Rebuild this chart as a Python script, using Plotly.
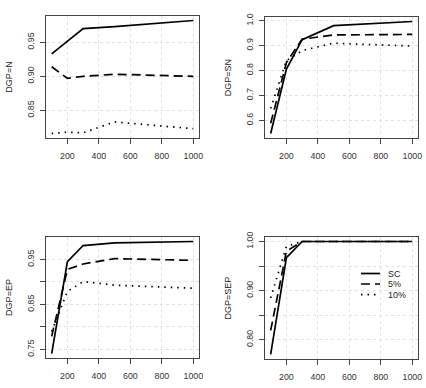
import plotly.graph_objects as go

n_vals = [100, 200, 300, 500, 1000]
series_names = ["SC", "5%", "10%"]

# DGP=N
n_sc = [0.933, 0.951, 0.970, 0.973, 0.982]
n_5 = [0.914, 0.897, 0.900, 0.903, 0.900]
n_10 = [0.816, 0.818, 0.817, 0.833, 0.823]
# DGP=SN
sn_sc = [0.547, 0.806, 0.924, 0.980, 0.997]
sn_5 = [0.588, 0.832, 0.926, 0.943, 0.945]
sn_10 = [0.648, 0.840, 0.880, 0.910, 0.898]
# DGP=EP
ep_sc = [0.741, 0.945, 0.981, 0.987, 0.990]
ep_5 = [0.779, 0.928, 0.940, 0.952, 0.948]
ep_10 = [0.790, 0.879, 0.901, 0.893, 0.886]
# DGP=SEP
sep_sc = [0.770, 0.967, 1.000, 1.000, 1.000]
sep_5 = [0.819, 0.980, 1.000, 1.000, 1.000]
sep_10 = [0.885, 0.990, 1.000, 1.000, 1.000]

panel_titles = ["DGP=N", "DGP=SN", "DGP=EP", "DGP=SEP"]
panel_data = [[n_sc, n_5, n_10], [sn_sc, sn_5, sn_10], [ep_sc, ep_5, ep_10], [sep_sc, sep_5, sep_10]]

x_ticks = [200, 400, 600, 800, 1000]
y_tickvals = [
    [0.85, 0.90, 0.95],
    [0.6, 0.7, 0.8, 0.9, 1.0],
    [0.75, 0.80, 0.85, 0.90, 0.95],
    [0.80, 0.85, 0.90, 0.95, 1.00],
]
y_ticktext = [
    ["0.85", "0.90", "0.95"],
    ["0.6", "0.7", "0.8", "0.9", "1.0"],
    ["0.75", "", "0.85", "", "0.95"],
    ["0.80", "", "0.90", "", "1.00"],
]

W, H = 426, 388
# panel boxes in pixels (left, right, top, bottom)
boxes = [(46, 199, 16, 138), (265, 418, 17, 138), (46, 199, 237, 358), (265, 418, 237, 359)]

styles = [dict(dash="solid", width=1.7), dict(dash="9px,5px", width=1.7), dict(dash="1.5px,5px", width=1.7)]

fig = go.Figure()
tfont = dict(family="Liberation Sans, Arial, sans-serif", size=8.8, color="#333")
lfont = dict(family="Liberation Sans, Arial, sans-serif", size=9, color="#222")

for i in range(4):
    ax = "" if i == 0 else str(i + 1)
    for j in range(3):
        fig.add_trace(go.Scatter(
            x=n_vals, y=panel_data[i][j], mode="lines",
            name=series_names[j],
            line=dict(color="black", **styles[j]),
            showlegend=False,
            xaxis="x" + ax, yaxis="y" + ax,
        ))
    l, r, t, b = boxes[i]
    allv = [v for s in panel_data[i] for v in s]
    lo, hi = min(allv), max(allv)
    pad = (hi - lo) * 0.04
    common = dict(showline=True, mirror=True, linecolor="#444", linewidth=1,
                  ticks="outside", ticklen=5, tickcolor="#444", tickfont=tfont,
                  showgrid=True, gridcolor="#e2e2e2", griddash="dot", gridwidth=1,
                  zeroline=False, automargin=False)
    fig.update_layout(**{
        "xaxis" + ax: dict(domain=[l / W, r / W], anchor="y" + ax, range=[64, 1036],
                           tickvals=x_ticks, ticklabelstandoff=4, **common),
        "yaxis" + ax: dict(domain=[1 - b / H, 1 - t / H], anchor="x" + ax,
                           range=[lo - pad, hi + pad], tickvals=y_tickvals[i],
                           ticktext=y_ticktext[i], tickangle=-90, ticklabelstandoff=2,
                           title=dict(text=panel_titles[i], font=lfont, standoff=12), **common),
    })

# legend keys (bottom-right panel)
leg_x0, leg_x1, leg_tx = 361 / W, 380 / W, 386 / W
leg_rows = [273.5, 284, 294.7]
shapes = []
annotations = []
for j in range(3):
    yy = 1 - leg_rows[j] / H
    shapes.append(dict(type="line", xref="paper", yref="paper", x0=leg_x0, x1=leg_x1,
                       y0=yy, y1=yy, line=dict(color="black", **styles[j])))
    annotations.append(dict(xref="paper", yref="paper", x=leg_tx, y=yy, text=series_names[j],
                            showarrow=False, xanchor="left", yanchor="middle", font=lfont))

fig.update_layout(
    width=W, height=H, margin=dict(l=0, r=0, t=0, b=0),
    plot_bgcolor="white", paper_bgcolor="white",
    shapes=shapes, annotations=annotations, showlegend=False,
)

fig.write_html("out.html")
